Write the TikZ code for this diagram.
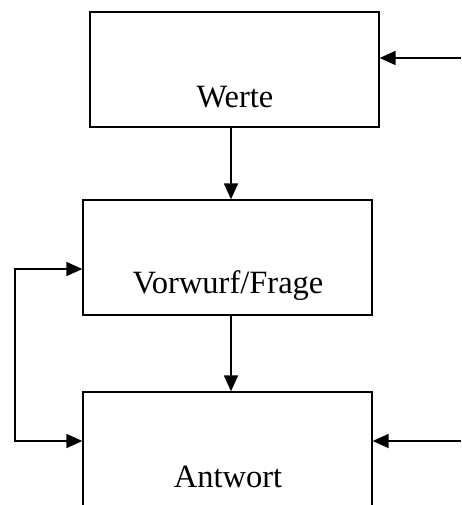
\documentclass[tikz,border=0pt]{standalone}
\usepackage{fontspec}
\setmainfont{Liberation Serif}
\usetikzlibrary{arrows.meta}
\begin{document}
\begin{tikzpicture}[x=1pt,y=-1pt,
  box/.style={draw,line width=1.3pt,inner sep=0pt,minimum width=289pt},
  lbl/.style={anchor=base,inner sep=0pt,font=\fontsize{32.5}{38}\selectfont},
  arr/.style={line width=1.8pt,-{Triangle[length=16pt,width=14pt]}}]
\useasboundingbox (0,0) rectangle (461,505);
\clip (0,0) rectangle (461,505);
% boxes
\node[box,minimum height=115pt] (werte) at (234.5,69.5) {};
\node[box,minimum height=115pt] (frage) at (227.5,257.5) {};
\node[box,minimum height=150pt] (antwort) at (227.5,467) {};
% labels
\node[lbl] (twerte) at (235,108) {Werte};
\node[lbl] (tfrage) at (228,293) {Vorwurf/Frage};
\node[lbl] (tantwort) at (228,487) {Antwort};
% helper points
\coordinate (vx) at (231,0);
\coordinate (inW) at (461,58);
\coordinate (inA) at (461,441);
\coordinate (loopTop) at (15,269);
\coordinate (loopBot) at (15,441);
% connectors
\draw[arr] (werte.south -| vx) -- (frage.north -| vx);
\draw[arr] (frage.south -| vx) -- (antwort.north -| vx);
\draw[arr] (inW) -- (inW -| werte.east);
\draw[arr] (inA) -- (inA -| antwort.east);
\draw[line width=1.8pt] (loopTop) -- (loopBot);
\draw[arr] ([xshift=-0.9pt]loopTop) -- (loopTop -| frage.west);
\draw[arr] ([xshift=-0.9pt]loopBot) -- (loopBot -| antwort.west);
\end{tikzpicture}
\end{document}
